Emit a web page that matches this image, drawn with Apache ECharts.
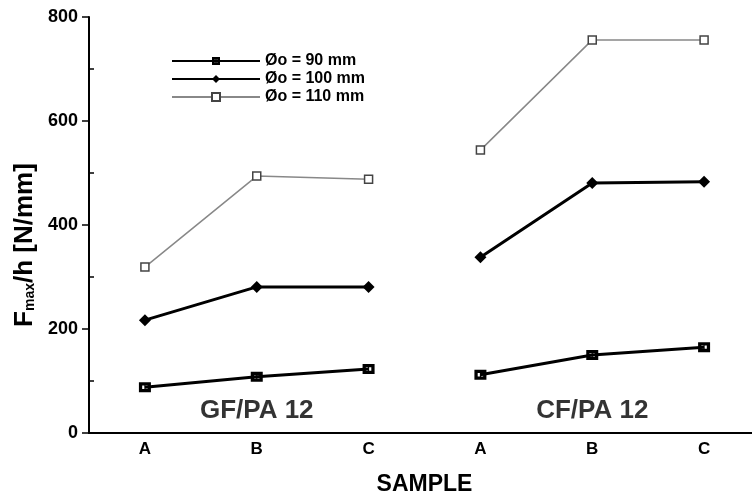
<!DOCTYPE html>
<html>
<head>
<meta charset="utf-8">
<script src="https://cdn.jsdelivr.net/npm/echarts@6/dist/echarts.min.js"></script>
<style>
  html, body { margin: 0; padding: 0; background: #fff; }
  #chart { width: 752px; height: 498px; }
</style>
</head>
<body>
<div id="chart"></div>
<script>
// tick labels along the sample axis
const samples = ['A', 'B', 'C', 'A', 'B', 'C']

// F_max/h values, GF/PA 12 in the first three slots, CF/PA 12 in the last three
const gf90 = [88, 108, 123, null, null, null]
const cf90 = [null, null, null, 112, 150, 165]
const gf100 = [217, 281, 281, null, null, null]
const cf100 = [null, null, null, 338, 481, 483]
const gf110 = [319, 494, 488, null, null, null]
const cf110 = [null, null, null, 544, 756, 756]

const groupNames = ['GF/PA 12', 'CF/PA 12']
const groupPos = [[1, 42], [4, 42]]

const names = ['Øo = 90 mm', 'Øo = 100 mm', 'Øo = 110 mm']
const font = 'Liberation Sans'

let chart = echarts.init(document.getElementById('chart'))

// black box with two small holes
const holedRect = 'path://M0,0H11V9H0Z M3,3V6H5V3Z M6,3V6H8V3Z'

const s90 = {
  type: 'line',
  name: names[0],
  symbol: holedRect,
  symbolSize: [12, 10],
  lineStyle: { color: '#000', width: 3 },
  itemStyle: { color: '#000' },
  z: 3,
}
const s100 = {
  type: 'line',
  name: names[1],
  symbol: 'diamond',
  symbolSize: 12,
  lineStyle: { color: '#000', width: 3 },
  itemStyle: { color: '#000' },
  z: 2,
}
const s110 = {
  type: 'line',
  name: names[2],
  symbol: 'rect',
  symbolSize: 8,
  lineStyle: { color: '#888', width: 1.5 },
  itemStyle: { color: '#fff', borderColor: '#444', borderWidth: 1.5 },
  z: 1,
}

chart.setOption({
  animation: false,
  backgroundColor: '#fff',
  grid: { left: 89, top: 17, width: 671, height: 416, outerBoundsMode: 'none', containLabel: false },
  legend: {
    left: 166,
    top: 48,
    orient: 'vertical',
    itemWidth: 88,
    itemHeight: 10,
    itemGap: 2,
    data: names,
    textStyle: { fontFamily: font, fontWeight: 'bold', fontSize: 16, color: '#000' },
  },
  xAxis: [
    {
      type: 'category',
      data: samples,
      boundaryGap: true,
      name: 'SAMPLE',
      nameLocation: 'middle',
      nameGap: 40,
      nameMoveOverlap: false,
      nameTextStyle: { fontFamily: font, fontWeight: 'bold', fontSize: 23, color: '#000' },
      axisLine: { lineStyle: { color: '#000', width: 2 } },
      axisTick: { alignWithLabel: true, inside: true, length: 6, lineStyle: { color: '#000', width: 1.5 } },
      axisLabel: { fontFamily: font, fontWeight: 'bold', fontSize: 17, color: '#000', margin: 8 },
      splitLine: { show: false },
    },
    {
      type: 'category',
      data: samples,
      position: 'top',
      axisLine: { lineStyle: { color: '#000', width: 2 } },
      axisTick: { show: false },
      axisLabel: { show: false },
    },
  ],
  yAxis: [
    {
      type: 'value',
      min: 0,
      max: 800,
      interval: 200,
      name: '{a|F}{b|max}{a|/h [N/mm]}',
      nameLocation: 'middle',
      nameGap: 51,
      nameMoveOverlap: false,
      nameTextStyle: {
        color: '#000',
        padding: [0, 40, 0, 0],
        rich: {
          a: { fontFamily: font, fontWeight: 'bold', fontSize: 26, color: '#000' },
          b: { fontFamily: font, fontWeight: 'bold', fontSize: 14, color: '#000', padding: [10, 0, 0, 0] },
        },
      },
      axisLine: { show: true, lineStyle: { color: '#000', width: 2 } },
      axisTick: { show: true, length: 7, lineStyle: { color: '#000', width: 1.5 } },
      axisLabel: { fontFamily: font, fontWeight: 'bold', fontSize: 18, color: '#000', margin: 11 },
      splitLine: { show: false },
    },
    {
      type: 'value',
      min: 0,
      max: 800,
      interval: 100,
      position: 'left',
      axisLine: { show: false },
      axisTick: { show: true, inside: true, length: 5, customValues: [100, 300, 500, 700], lineStyle: { color: '#000', width: 1.5 } },
      axisLabel: { show: false },
      splitLine: { show: false },
    },
  ],
  series: [
    { ...s90, data: gf90 },
    { ...s90, data: cf90 },
    { ...s100, data: gf100 },
    { ...s100, data: cf100 },
    { ...s110, data: gf110 },
    { ...s110, data: cf110 },
    {
      type: 'scatter',
      symbolSize: 0,
      silent: true,
      data: groupPos.map((p, i) => ({ value: p, name: groupNames[i] })),
      label: {
        show: true,
        position: 'inside',
        formatter: (p) => p.name,
        fontFamily: font,
        fontWeight: 'bold',
        fontSize: 26,
        color: '#000',
        textBorderWidth: 0,
      },
    },
  ],
})
</script>
</body>
</html>
